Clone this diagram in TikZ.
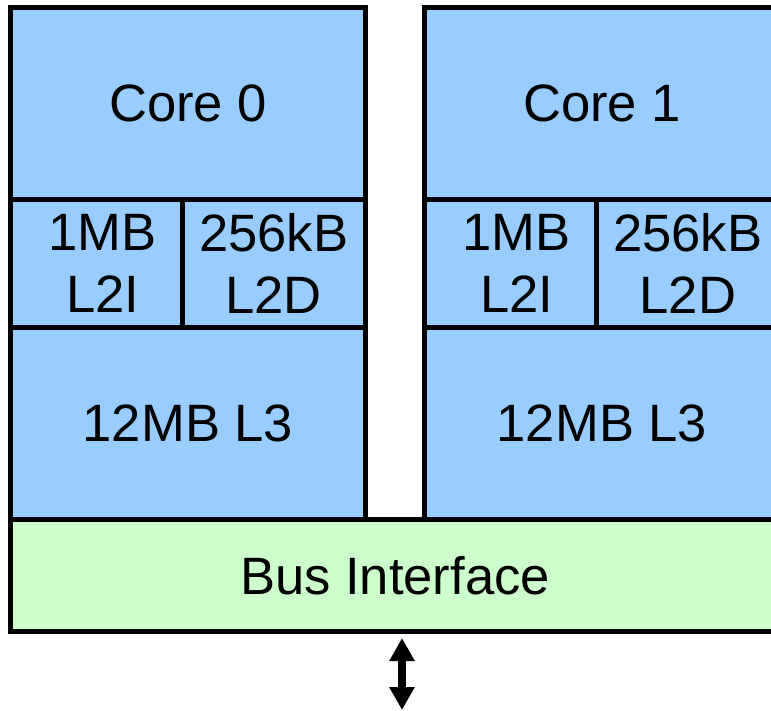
\documentclass[tikz,border=0pt]{standalone}
\usepackage{fontspec}
\setmainfont{Liberation Sans}
\usetikzlibrary{arrows.meta}
\definecolor{coreblue}{HTML}{99CCFF}
\definecolor{busgreen}{HTML}{CCFFCC}
\newcommand{\shiftln}[1]{\hspace*{13pt}#1}
\begin{document}
\begin{tikzpicture}[x=1pt,y=-1pt,
  blk/.style={draw=black, line width=5pt, inner sep=0pt, outer sep=0pt, anchor=north west,
    align=center, font=\fontsize{52.6}{62}\selectfont},
  cpu/.style={blk, fill=coreblue},
  bus/.style={blk, fill=busgreen},
  dblarrow/.style={line width=8pt, {Triangle[width=24pt,length=23pt]}-{Triangle[width=24pt,length=23pt]}}]
\useasboundingbox (0,0) rectangle (771,710);
\fill[white] (0,0) rectangle (771,710);
\clip (0,0) rectangle (771,710);
% left core
\node[cpu, minimum width=355pt, minimum height=191.5pt] (core0) at (10.5,7.5) {Core 0};
\node[cpu, minimum width=171.5pt, minimum height=128pt] (l2i0) at (10.5,199) {\shiftln{1MB}\\\shiftln{L2I}};
\node[cpu, minimum width=183.5pt, minimum height=128pt] (l2d0) at (182,199) {256kB\\L2D};
\node[cpu, minimum width=355pt, minimum height=192.5pt] (l30) at (10.5,327) {12MB L3};
% right core
\node[cpu, minimum width=355pt, minimum height=191.5pt] (core1) at (424.5,7.5) {Core 1};
\node[cpu, minimum width=171.5pt, minimum height=128pt] (l2i1) at (424.5,199) {\shiftln{1MB}\\\shiftln{L2I}};
\node[cpu, minimum width=183.5pt, minimum height=128pt] (l2d1) at (596,199) {256kB\\L2D};
\node[cpu, minimum width=355pt, minimum height=192.5pt] (l31) at (424.5,327) {12MB L3};
% bus
\node[bus, minimum width=769pt, minimum height=111.5pt] (busif) at (10.5,519.5) {Bus Interface};
\coordinate (atop) at (402,638);
\coordinate (abot) at (402,710);
\draw[dblarrow] (atop) -- (abot);
\end{tikzpicture}
\end{document}
